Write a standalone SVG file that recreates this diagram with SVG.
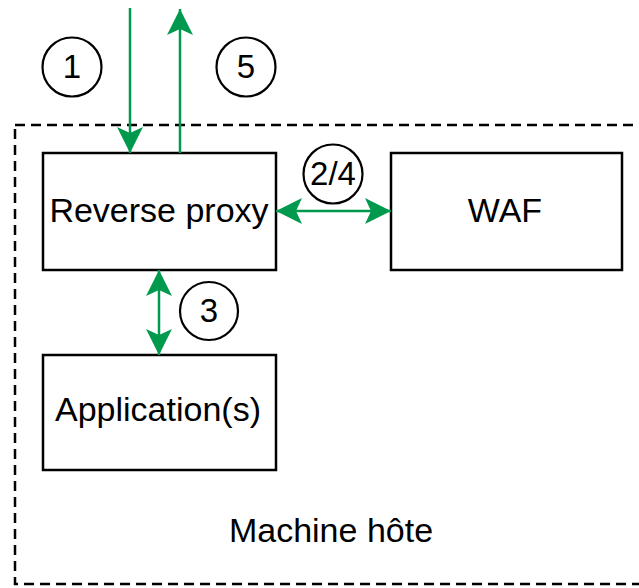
<svg xmlns="http://www.w3.org/2000/svg" width="639" height="588" viewBox="0 0 639 588">
<style>
  .box{fill:#ffffff;stroke:#000000;stroke-width:2.5}
  .circ{fill:#ffffff;stroke:#000000;stroke-width:2.2}
  .lbl{font-family:"Liberation Sans",Arial,sans-serif;font-size:34px;fill:#000000;text-anchor:middle}
  .num{font-family:"Liberation Sans",Arial,sans-serif;font-size:33px;fill:#000000;text-anchor:middle}
  .conn{stroke:#00994D;stroke-width:2.5;fill:none}
  .host{fill:none;stroke:#000000;stroke-width:2.5;stroke-dasharray:10 6}
</style>
<defs>
  <marker id="arr" markerUnits="userSpaceOnUse" markerWidth="30" markerHeight="30" refX="26" refY="13" orient="auto-start-reverse" overflow="visible">
    <path d="M0,0 L26,13 L0,26 L6,13 Z" fill="#00994D"/>
  </marker>
</defs>
<rect width="639" height="588" fill="#ffffff"/>
<g id="host">
  <rect class="host" x="15" y="125" width="660" height="459"/>
  <text class="lbl" x="331" y="542">Machine hôte</text>
</g>
<g id="reverse-proxy">
  <rect class="box" x="43" y="153" width="233" height="117"/>
  <text class="lbl" x="159" y="222">Reverse proxy</text>
</g>
<g id="waf">
  <rect class="box" x="391" y="153" width="231" height="117"/>
  <text class="lbl" x="505" y="222">WAF</text>
</g>
<g id="application">
  <rect class="box" x="43" y="355" width="233" height="115"/>
  <text class="lbl" x="158" y="421">Application(s)</text>
</g>
<g id="connectors">
  <line class="conn" x1="130" y1="8" x2="130" y2="153" marker-end="url(#arr)"/>
  <line class="conn" x1="180" y1="153" x2="180" y2="9" marker-end="url(#arr)"/>
  <line class="conn" x1="276" y1="211" x2="391" y2="211" marker-start="url(#arr)" marker-end="url(#arr)"/>
  <line class="conn" x1="159" y1="270" x2="159" y2="355" marker-start="url(#arr)" marker-end="url(#arr)"/>
</g>
<g id="step1">
  <circle class="circ" cx="72" cy="67" r="29.5"/>
  <text class="num" x="72" y="78">1</text>
</g>
<g id="step5">
  <circle class="circ" cx="246" cy="67" r="29.5"/>
  <text class="num" x="246" y="78">5</text>
</g>
<g id="step24">
  <circle class="circ" cx="333" cy="174" r="29.5"/>
  <text class="num" x="333" y="185">2/4</text>
</g>
<g id="step3">
  <circle class="circ" cx="209" cy="311" r="29"/>
  <text class="num" x="209" y="322">3</text>
</g>
</svg>
